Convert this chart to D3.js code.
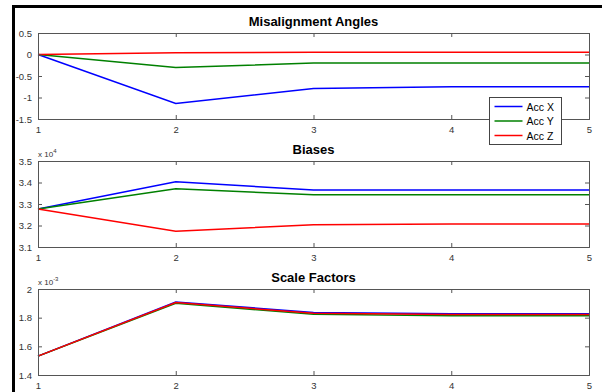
<!DOCTYPE html>
<html>
<head>
<meta charset="utf-8">
<script src="https://cdn.jsdelivr.net/npm/d3@7"></script>
<style>
  body { margin: 0; background: #fff; }
  svg { display: block; font-family: "Liberation Sans", Arial, sans-serif; }
</style>
</head>
<body>
<svg id="chart" width="602" height="392"></svg>
<script>
// x positions (iterations)
const steps = [1, 2, 3, 4, 5];
const seriesNames = ["Acc X", "Acc Y", "Acc Z"];
const seriesColors = ["#0000ff", "#008000", "#ff0000"];

// Misalignment angles
const misX = [0, -1.14, -0.79, -0.75, -0.75];
const misY = [0, -0.30, -0.20, -0.20, -0.20];
const misZ = [0, 0.04, 0.05, 0.05, 0.05];

// Biases (x 10^4)
const biasX = [3.277, 3.404, 3.365, 3.365, 3.365];
const biasY = [3.277, 3.371, 3.343, 3.343, 3.343];
const biasZ = [3.277, 3.173, 3.204, 3.207, 3.207];

// Scale factors (x 10^-3)
const scaleX = [1.532, 1.910, 1.836, 1.827, 1.827];
const scaleY = [1.532, 1.900, 1.823, 1.813, 1.813];
const scaleZ = [1.532, 1.905, 1.831, 1.822, 1.822];

const misTicks = [0.5, 0, -0.5, -1, -1.5];
const biasTicks = [3.5, 3.4, 3.3, 3.2, 3.1];
const scaleTicks = [2, 1.8, 1.6, 1.4];

const panels = [
  { title: "Misalignment Angles", top: 33, domain: [-1.5, 0.5], ticks: misTicks, exp: null, series: [misX, misY, misZ] },
  { title: "Biases", top: 161, domain: [3.1, 3.5], ticks: biasTicks, exp: "4", series: [biasX, biasY, biasZ] },
  { title: "Scale Factors", top: 289, domain: [1.4, 2], ticks: scaleTicks, exp: "-3", series: [scaleX, scaleY, scaleZ] }
];

const svg = d3.select("#chart");
const left = 38, right = 589, plotH = 86;

// outer figure frame (top + left only visible)
svg.append("path")
  .attr("d", "M13.5,392 L13.5,6.5 L602,6.5")
  .attr("fill", "none")
  .attr("stroke", "#000")
  .attr("stroke-width", 3);

const x = d3.scaleLinear().domain([1, 5]).range([left, right]);

panels.forEach(p => {
  const y = d3.scaleLinear().domain(p.domain).range([p.top + plotH, p.top]);
  const g = svg.append("g");

  // title
  g.append("text")
    .attr("x", (left + right) / 2)
    .attr("y", p.top - 7)
    .attr("text-anchor", "middle")
    .attr("font-size", 13)
    .attr("font-weight", "bold")
    .attr("fill", "#000")
    .text(p.title);

  // data lines
  const line = d3.line().x((d, i) => x(steps[i])).y(d => y(d));
  p.series.forEach((s, i) => {
    g.append("path")
      .datum(s)
      .attr("d", line)
      .attr("fill", "none")
      .attr("stroke", seriesColors[i])
      .attr("stroke-width", 1.5);
  });

  // axes with inward ticks
  const axisColor = "#555";
  const bottom = g.append("g").attr("transform", `translate(0,${p.top + plotH})`)
    .call(d3.axisBottom(x).tickValues(steps).tickSize(-4).tickPadding(7).tickFormat(d3.format("d")));
  const topAx = g.append("g").attr("transform", `translate(0,${p.top})`)
    .call(d3.axisTop(x).tickValues(steps).tickSize(-4).tickFormat(""));
  const leftAx = g.append("g").attr("transform", `translate(${left},0)`)
    .call(d3.axisLeft(y).tickValues(p.ticks).tickSize(-4).tickPadding(6).tickFormat(d => String(d)));
  const rightAx = g.append("g").attr("transform", `translate(${right},0)`)
    .call(d3.axisRight(y).tickValues(p.ticks).tickSize(-4).tickFormat(""));

  [bottom, topAx, leftAx, rightAx].forEach(a => {
    a.select(".domain").attr("stroke", axisColor);
    a.selectAll(".tick line").attr("stroke", axisColor);
    a.selectAll("text").attr("font-size", 9.5).attr("fill", "#333")
      .attr("font-family", "\"Liberation Sans\", Arial, sans-serif");
  });

  // exponent label
  if (p.exp) {
    const t = g.append("text")
      .attr("x", left)
      .attr("y", p.top - 4)
      .attr("font-size", 8)
      .attr("fill", "#333");
    t.append("tspan").text("x 10");
    t.append("tspan").attr("dy", -4).attr("font-size", 6).text(p.exp);
  }
});

// legend (in the first panel)
const lg = svg.append("g").attr("transform", "translate(489.5,97.5)");
lg.append("rect")
  .attr("width", 72)
  .attr("height", 47)
  .attr("fill", "#fff")
  .attr("stroke", "#444");
seriesNames.forEach((n, i) => {
  const yy = 9 + i * 14.5;
  lg.append("line")
    .attr("x1", 5).attr("x2", 33)
    .attr("y1", yy).attr("y2", yy)
    .attr("stroke", seriesColors[i])
    .attr("stroke-width", 1.5);
  lg.append("text")
    .attr("x", 37)
    .attr("y", yy + 4)
    .attr("font-size", 10.5)
    .attr("fill", "#000")
    .text(n);
});
</script>
</body>
</html>
